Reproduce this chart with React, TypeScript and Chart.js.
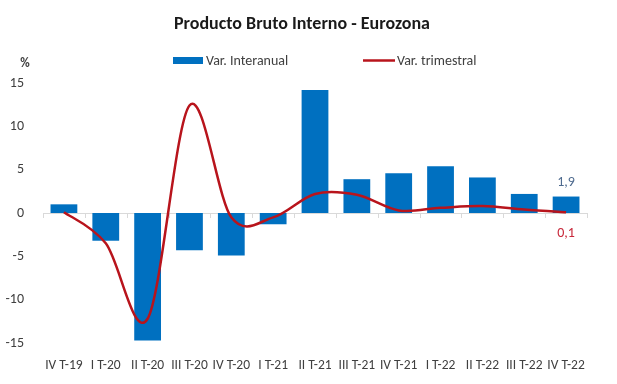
import React, { useEffect, useRef } from "react";
import { Chart, registerables } from "chart.js";

Chart.register(...registerables);

const TITLE = "Producto Bruto Interno - Eurozona";
const UNIT = "%";
const categories = [
  "IV T-19", "I T-20", "II T-20", "III T-20", "IV T-20", "I T-21", "II T-21",
  "III T-21", "IV T-21", "I T-22", "II T-22", "III T-22", "IV T-22",
];
const seriesNames = ["Var. Interanual", "Var. trimestral"];
const interanual = [1.0, -3.2, -14.7, -4.3, -4.9, -1.3, 14.2, 3.9, 4.6, 5.4, 4.1, 2.2, 1.9];
const trimestral = [0.1, -3.5, -12.2, 12.4, -0.5, -0.5, 2.2, 2.1, 0.3, 0.6, 0.8, 0.4, 0.1];
const yTicks = [-15, -10, -5, 0, 5, 10, 15];

const FONT = "Carlito, Lato, 'Noto Sans', sans-serif";
const BLUE = "#0070C0";
const RED = "#B8141C";

const fmt = (v: number) => v.toFixed(1).replace(".", ",");

// Excel-like smoothing (Catmull-Rom style control points) computed from scale positions
const smoothPlugin = {
  id: "excelSmooth",
  afterDatasetsUpdate(chart: any) {
    chart.data.datasets.forEach((_: any, i: number) => {
      const meta = chart.getDatasetMeta(i);
      if (meta.type !== "line") return;
      const pts = meta.data;
      const n = pts.length;
      for (let k = 0; k < n; k++) {
        const p = pts[k];
        const prev = pts[Math.max(0, k - 1)];
        const next = pts[Math.min(n - 1, k + 1)];
        const dx = (next.x - prev.x) / 6;
        const dy = (next.y - prev.y) / 6;
        p.cp1x = p.x - dx;
        p.cp1y = p.y - dy;
        p.cp2x = p.x + dx;
        p.cp2y = p.y + dy;
      }
      meta.dataset._pointsUpdated = true;
    });
  },
};

const decorPlugin = {
  id: "decor",
  beforeDraw(chart: any) {
    const ctx = chart.ctx;
    ctx.save();
    ctx.fillStyle = "#ffffff";
    ctx.fillRect(0, 0, chart.width, chart.height);
    ctx.restore();
  },
  beforeDatasetsDraw(chart: any) {
    const ctx = chart.ctx;
    const x = chart.scales.x;
    const y = chart.scales.y;
    const y0 = y.getPixelForValue(0);
    ctx.save();
    ctx.strokeStyle = "#d9d9d9";
    ctx.lineWidth = 1;
    ctx.beginPath();
    ctx.moveTo(x.left, Math.round(y0) + 0.5);
    ctx.lineTo(x.right, Math.round(y0) + 0.5);
    const n = categories.length;
    for (let i = 0; i <= n; i++) {
      const px = i < n ? x.getPixelForValue(i) - (x.getPixelForValue(1) - x.getPixelForValue(0)) / 2 : x.right;
      ctx.moveTo(Math.round(px) + 0.5, Math.round(y0));
      ctx.lineTo(Math.round(px) + 0.5, Math.round(y0) + 5);
    }
    ctx.stroke();
    ctx.restore();
  },
  afterDraw(chart: any) {
    const ctx = chart.ctx;
    ctx.save();
    // Title
    ctx.fillStyle = "#1a1a1a";
    ctx.font = `bold 18px ${FONT}`;
    ctx.textAlign = "center";
    ctx.textBaseline = "middle";
    ctx.fillText(TITLE, 302, 24);

    // Legend
    ctx.font = `14px ${FONT}`;
    ctx.textAlign = "left";
    ctx.fillStyle = BLUE;
    ctx.fillRect(173, 57, 30, 7);
    ctx.fillStyle = "#404040";
    ctx.fillText(seriesNames[0], 206, 61);
    ctx.strokeStyle = RED;
    ctx.lineWidth = 2.5;
    ctx.beginPath();
    ctx.moveTo(363, 60.5);
    ctx.lineTo(395, 60.5);
    ctx.stroke();
    ctx.fillStyle = "#404040";
    ctx.fillText(seriesNames[1], 397, 61);

    // Unit
    ctx.fillStyle = "#404040";
    ctx.font = `bold 13px ${FONT}`;
    ctx.textAlign = "center";
    ctx.fillText(UNIT, 25, 64);

    // Data labels for the last period
    const barMeta = chart.getDatasetMeta(0);
    const lineMeta = chart.getDatasetMeta(1);
    const last = categories.length - 1;
    const bar = barMeta.data[last];
    const pt = lineMeta.data[last];
    ctx.font = `14px ${FONT}`;
    ctx.fillStyle = "#4F6B8F";
    ctx.fillText(fmt(interanual[last]), bar.x, bar.y - 14);
    ctx.fillStyle = "#C8283A";
    ctx.fillText(fmt(trimestral[last]), pt.x, pt.y + 21);
    ctx.restore();
  },
};

export default function App() {
  const ref = useRef<HTMLCanvasElement>(null);
  useEffect(() => {
    const chart = new Chart(ref.current!, {
      type: "bar",
      data: {
        labels: categories,
        datasets: [
          {
            type: "bar",
            label: seriesNames[0],
            data: interanual,
            backgroundColor: BLUE,
            barPercentage: 0.64,
            categoryPercentage: 1,
            order: 1,
          },
          {
            type: "line",
            label: seriesNames[1],
            data: trimestral,
            borderColor: RED,
            borderWidth: 2.5,
            pointRadius: 0,
            tension: 0.4,
            fill: false,
            order: 0,
          } as any,
        ],
      },
      options: {
        responsive: false,
        animation: false,
        devicePixelRatio: 1,
        layout: { padding: { top: 83, right: 30, bottom: 11, left: 0 } },
        plugins: {
          legend: { display: false },
          title: { display: false },
          tooltip: { enabled: false },
        },
        scales: {
          x: {
            grid: { display: false },
            border: { display: false },
            ticks: {
              autoSkip: false,
              maxRotation: 0,
              minRotation: 0,
              padding: 7,
              color: "#404040",
              font: { family: FONT, size: 13.5 },
            },
            afterFit: (s: any) => {
              s.height = 30;
            },
          },
          y: {
            min: -15,
            max: 15,
            grid: { display: false },
            border: { display: false },
            afterBuildTicks: (s: any) => {
              s.ticks = yTicks.map((v) => ({ value: v }));
            },
            ticks: {
              padding: 11,
              color: "#404040",
              font: { family: FONT, size: 14 },
            },
            afterFit: (s: any) => {
              s.width = 43;
            },
          },
        },
      },
      plugins: [smoothPlugin, decorPlugin],
    });
    return () => chart.destroy();
  }, []);
  return (
    <div style={{ position: "absolute", left: 0, top: 0, width: 617, height: 384, background: "#fff" }}>
      <canvas ref={ref} width={617} height={384} style={{ display: "block" }} />
    </div>
  );
}
